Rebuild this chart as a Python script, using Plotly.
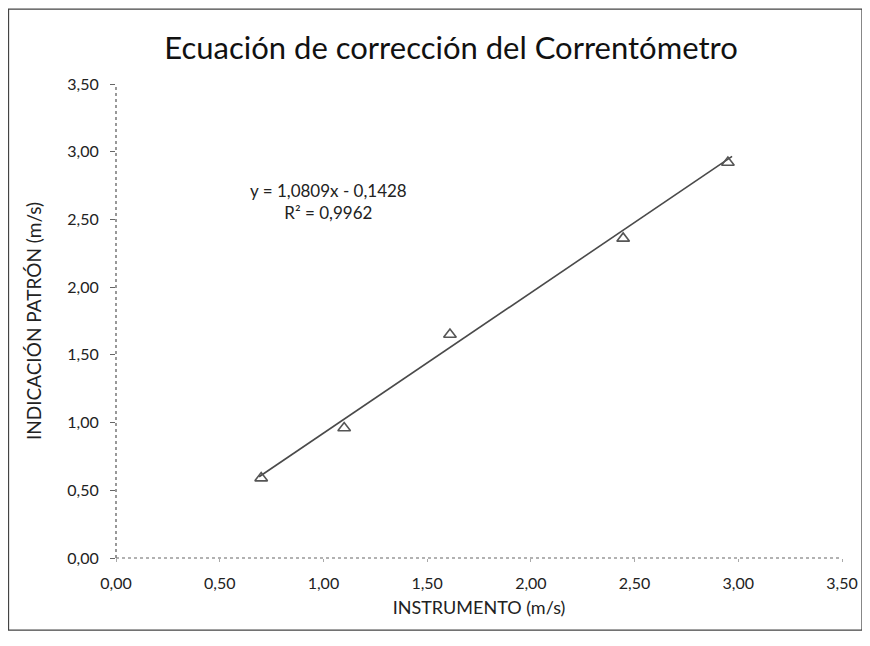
import plotly.graph_objects as go

# Data
instrumento = [0.70, 1.10, 1.61, 2.445, 2.95]
patron = [0.59, 0.96, 1.65, 2.36, 2.92]
# Trend line end points as drawn in the chart (y = 1,0809x - 0,1428)
trend_x = [0.69, 2.97]
trend_y = [0.60, 2.965]
tick_vals = [0, 0.5, 1.0, 1.5, 2.0, 2.5, 3.0, 3.5]

fig = go.Figure()
fig.add_trace(go.Scatter(
    x=trend_x, y=trend_y, mode="lines",
    line=dict(color="#4a4a4a", width=1.6),
    hoverinfo="skip", showlegend=False))
fig.add_trace(go.Scatter(
    x=instrumento, y=patron, mode="markers",
    marker=dict(symbol="triangle-up-open", size=11, color="#555555",
                line=dict(width=1.6, color="#555555")),
    showlegend=False))

font_family = "Lato, 'Open Sans', sans-serif"

fig.update_layout(
    width=862, height=638,
    margin=dict(l=108, r=28, t=76, b=88),
    paper_bgcolor="white", plot_bgcolor="white",
    separators=", ",
    font=dict(family=font_family, color="#222222", size=16),
    title=dict(text="Ecuación de corrección del Correntómetro",
               x=0.514, xanchor="center", y=0.937, yanchor="middle",
               font=dict(size=31, color="#111111", family=font_family)),
    xaxis=dict(range=[0, 3.5], tickvals=tick_vals, tickformat=".2f",
               showgrid=False, zeroline=False, showline=False,
               ticks="outside", ticklen=3, tickcolor="#aaaaaa",
               ticklabelstandoff=8,
               tickfont=dict(size=16, color="#222222"),
               title=dict(text="INSTRUMENTO (m/s)", standoff=10,
                          font=dict(size=18, color="#222222"))),
    yaxis=dict(range=[0, 3.5], tickvals=tick_vals, tickformat=".2f",
               showgrid=False, zeroline=False, showline=False,
               ticks="outside", ticklen=5, tickcolor="#666666",
               ticklabelstandoff=8,
               tickfont=dict(size=16, color="#222222"),
               title=dict(text="INDICACIÓN PATRÓN (m/s)", standoff=20,
                          font=dict(size=19, color="#222222"))),
)

# Dotted axis lines (as in the reference)
fig.add_shape(type="line", xref="paper", yref="paper", x0=0, x1=0, y0=0, y1=1,
              line=dict(color="#555555", width=1.2, dash="dot"))
fig.add_shape(type="line", xref="paper", yref="paper", x0=0, x1=1, y0=0, y1=0,
              line=dict(color="#666666", width=1.2, dash="dot"))

# Outer chart border
fig.add_shape(type="rect", xref="paper", yref="paper",
              x0=-0.148, x1=1.0275, y0=-0.152, y1=1.158,
              line=dict(color="#444444", width=1.2))

fig.add_annotation(
    x=0.293, y=0.753, xref="paper", yref="paper",
    xanchor="center", yanchor="middle",
    text="y = 1,0809x - 0,1428<br>R² = 0,9962",
    showarrow=False, align="center",
    font=dict(size=17, color="#222222", family=font_family))

fig.write_html("out.html")
